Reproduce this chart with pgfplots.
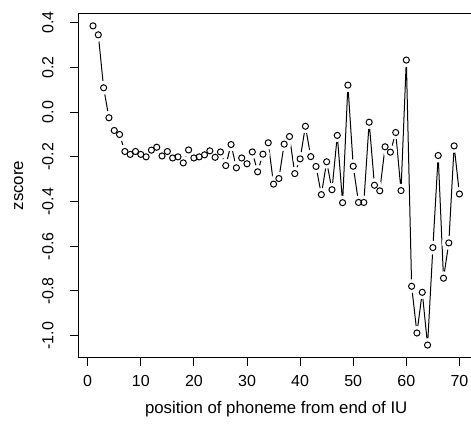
\documentclass[12pt,border=0pt]{standalone}
\usepackage{fontspec}
\setmainfont{Liberation Sans}
\usepackage{pgfplots}
\usepackage{pgfplotstable}
\pgfplotsset{compat=1.18}
\pgfplotstableread{
x y
1 0.386
2 0.346
3 0.109
4 -0.025
5 -0.082
6 -0.100
7 -0.176
8 -0.189
9 -0.176
10 -0.189
11 -0.200
12 -0.170
13 -0.157
14 -0.196
15 -0.176
16 -0.205
17 -0.200
18 -0.227
19 -0.169
20 -0.205
21 -0.200
22 -0.191
23 -0.173
24 -0.202
25 -0.178
26 -0.239
27 -0.145
28 -0.249
29 -0.205
30 -0.231
31 -0.178
32 -0.267
33 -0.188
34 -0.137
35 -0.322
36 -0.297
37 -0.143
38 -0.109
39 -0.275
40 -0.209
41 -0.063
42 -0.199
43 -0.243
44 -0.369
45 -0.222
46 -0.347
47 -0.104
48 -0.405
49 0.121
50 -0.242
51 -0.404
52 -0.404
53 -0.045
54 -0.327
55 -0.352
56 -0.155
57 -0.179
58 -0.091
59 -0.351
60 0.233
61 -0.779
62 -0.988
63 -0.806
64 -1.042
65 -0.606
66 -0.194
67 -0.743
68 -0.585
69 -0.151
70 -0.366
}\zdata
\begin{document}
\begin{tikzpicture}
\useasboundingbox (0,0) rectangle (353.25pt,318pt);
\clip (0,0) rectangle (353.25pt,318pt);
\begin{axis}[
  at={(58.76pt,49.65pt)}, anchor=south west,
  scale only axis, width=296.8pt, height=258.5pt,
  xmin=-1.76, xmax=72.76, ymin=-1.099, ymax=0.443,
  axis line style={line width=0.75pt},
  tick style={black, line width=0.75pt},
  tick align=outside,
  major tick length=6pt,
  xtick pos=left, ytick pos=left,
  xtick={0,10,20,30,40,50,60,70},
  xticklabels={0,10,20,30,40,50,60,70},
  ytick={-1.0,-0.8,-0.6,-0.4,-0.2,0.0,0.2,0.4},
  yticklabels={-1.0,-0.8,-0.6,-0.4,-0.2,0.0,0.2,0.4},
  xticklabel style={anchor=center, yshift=-11.4pt},
  yticklabel style={xshift=-16.8pt, rotate=90, anchor=center},
  xlabel={position of phoneme from end of IU},
  ylabel={zscore},
  every axis x label/.style={at={(axis description cs:0.5,0)}, yshift=-38.5pt, anchor=center, font=\fontsize{12.6}{15}\selectfont},
  every axis y label/.style={at={(axis description cs:0,0.5)}, xshift=-44.8pt, rotate=90, anchor=center, font=\fontsize{12.6}{15}\selectfont},
  clip=false,
]
\addplot[black, line width=0.75pt] table[x=x,y=y] {\zdata};
\addplot[only marks, mark=*, mark size=4.9pt, mark options={fill=white, draw=white}] table[x=x,y=y] {\zdata};
\addplot[only marks, mark=o, mark size=2.3pt, mark options={black, line width=0.75pt}] table[x=x,y=y] {\zdata};
\end{axis}
\end{tikzpicture}
\end{document}
